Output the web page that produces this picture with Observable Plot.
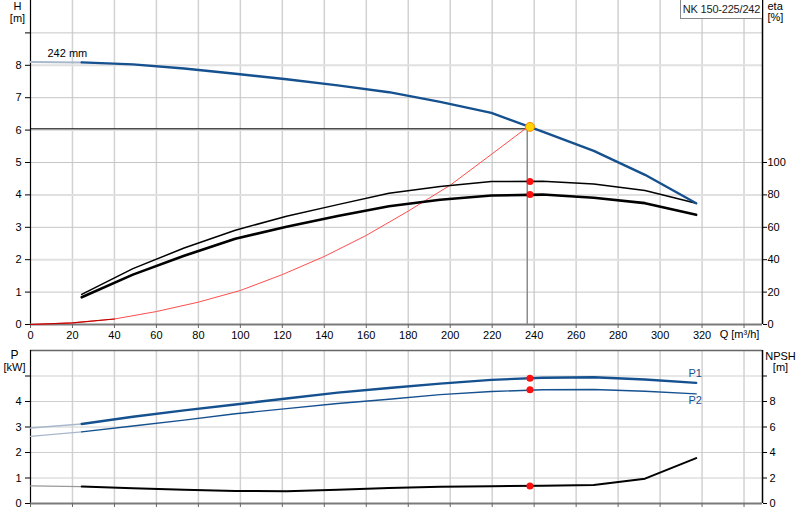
<!DOCTYPE html>
<html><head><meta charset="utf-8">
<script src="https://cdn.jsdelivr.net/npm/d3@7"></script>
<script src="https://cdn.jsdelivr.net/npm/@observablehq/plot@0.6"></script>
<style>
body{margin:0;background:#fff;font-family:"Liberation Sans",Arial,sans-serif;}
#wrap{position:relative;width:800px;height:520px;overflow:hidden;background:#fff}
#topchart{position:absolute;left:0;top:0}
#botchart{position:absolute;left:0;top:340px}
#title{position:absolute;left:680px;top:-1px;width:82px;height:20px;border:1px solid #8a8a8a;border-right:none;background:#fff;font-size:11px;line-height:19px;text-align:center;color:#222;box-sizing:border-box;white-space:nowrap;letter-spacing:-0.2px}
</style></head>
<body>
<div id="wrap"><div id="topchart"></div><div id="botchart"></div><div id="title">NK 150-225/242</div></div>
<script>
// ---- data ----
const flow     = [0, 24.4, 48.8, 73.2, 97.6, 122, 146.4, 170.8, 195.2, 219.6, 244, 268.4, 292.8, 317.2];
const head     = [8.10, 8.09, 8.03, 7.90, 7.74, 7.57, 7.38, 7.17, 6.87, 6.53, 5.95, 5.36, 4.62, 3.74];
const etaPump  = [null, 18.6, 34.5, 47.2, 58.2, 66.8, 74.0, 81.0, 85.2, 88.2, 88.4, 86.8, 82.7, 74.8];
const etaTotal = [null, 16.8, 30.8, 42.4, 52.9, 60.4, 67.0, 73.0, 77.0, 79.6, 80.2, 78.2, 74.9, 67.7];
const powerP1  = [2.96, 3.12, 3.40, 3.65, 3.88, 4.12, 4.35, 4.53, 4.70, 4.85, 4.93, 4.95, 4.86, 4.73];
const powerP2  = [2.63, 2.81, 3.04, 3.27, 3.52, 3.72, 3.92, 4.09, 4.27, 4.39, 4.46, 4.47, 4.40, 4.30];
const npsh     = [1.38, 1.33, 1.20, 1.08, 0.99, 0.97, 1.08, 1.22, 1.31, 1.35, 1.40, 1.46, 1.95, 3.56];
const sysFlow  = [0, 20, 40, 60, 80, 100, 120, 140, 160, 180, 200, 220, 237];
const sysHead  = [0, 0.05, 0.17, 0.40, 0.69, 1.05, 1.54, 2.10, 2.75, 3.50, 4.30, 5.27, 6.10];
const dutyQ = 238, dutyLineQ = 236.7, dutyH = 6.1, dutyHLine = 6.04;
const dutyEtaPump = 88.3, dutyEtaTotal = 80.3, dutyP1 = 4.91, dutyP2 = 4.46, dutyNpsh = 1.38;
const qTicks = [0,20,40,60,80,100,120,140,160,180,200,220,240,260,280,300,320,340];
const hTicks = [0,1,2,3,4,5,6,7,8,9];
const etaTicks = [0,20,40,60,80,100];
const pTicks = [0,1,2,3,4,5];
const npshTicks = [0,2,4,6,8,10];
const curveLabel = "242 mm";
const xMax = 348.8;

const rows = flow.map((q,i)=>({q, h:head[i], ep:etaPump[i], et:etaTotal[i], p1:powerP1[i], p2:powerP2[i], n:npsh[i]}));
const sys = sysFlow.map((q,i)=>({q, h:sysHead[i]}));
const BLUE = "#15508f", FADE = "#a9b7cb";
const font = {fontFamily:"'Liberation Sans',Arial,sans-serif", fontSize:"11px", background:"transparent", color:"#000", overflow:"visible"};

const topPlot = Plot.plot({
  width:800, height:345, marginLeft:30, marginRight:38, marginTop:0, marginBottom:21,
  style:font,
  x:{domain:[0,xMax]}, y:{domain:[0,10]},
  marks:[
    Plot.ruleX(qTicks.filter(d=>d>0), {stroke:"#d2d2d2", strokeWidth:1.5}),
    Plot.ruleY(hTicks.filter(d=>d%2===1), {stroke:"#c6c6c6", strokeWidth:1}),
    Plot.ruleY([2,4,6,8], {stroke:"#e0e0e0", strokeWidth:2}),
    Plot.ruleX([0], {stroke:"#000", strokeWidth:1.2}),
    Plot.ruleX([xMax], {stroke:"#000", strokeWidth:1.5}),
    Plot.ruleY([0], {stroke:"#7a7a7a", strokeWidth:2}),
    Plot.axisX({ticks:qTicks, tickSize:4, tickPadding:3, tickFormat:d=>d===340?"":d, label:null, stroke:"#666"}),
    Plot.axisY({ticks:hTicks, tickSize:5, tickPadding:4, tickFormat:d=>d<=8?d:"", label:null}),
    Plot.axisY({anchor:"right", ticks:etaTicks.map(d=>d/20), tickSize:4, tickPadding:1, tickFormat:d=>Math.round(d*20), label:null}),
    Plot.ruleY([dutyHLine], {x1:0, x2:dutyLineQ, stroke:"#000", strokeWidth:1}),
    Plot.ruleX([dutyLineQ], {y1:0, y2:dutyHLine, stroke:"#8c8c8c", strokeWidth:1.5}),
    Plot.line(sys, {x:"q", y:"h", stroke:"#ff4d4d", strokeWidth:1}),
    Plot.line(sys.slice(0,3), {x:"q", y:"h", stroke:"#c00000", strokeWidth:1.2}),
    Plot.line(rows.slice(1), {x:"q", y:d=>d.ep/20, stroke:"#000", strokeWidth:1.5}),
    Plot.line(rows.slice(1), {x:"q", y:d=>d.et/20, stroke:"#000", strokeWidth:2.6}),
    Plot.line(rows.slice(0,2), {x:"q", y:"h", stroke:FADE, strokeWidth:2}),
    Plot.line(rows.slice(1), {x:"q", y:"h", stroke:BLUE, strokeWidth:2.4}),
    Plot.dot([dutyEtaPump, dutyEtaTotal], {x:()=>dutyQ, y:d=>d/20, r:3.5, fill:"#ff1010", stroke:"none"}),
    Plot.dot([dutyH], {x:()=>dutyQ, y:d=>d, r:4.5, fill:"#ffd400", stroke:"#ff8a00", strokeWidth:1}),
    Plot.text([curveLabel], {frameAnchor:"top-left", dx:17, dy:53, textAnchor:"start", lineAnchor:"middle", fill:"#000", fontSize:11}),
    Plot.text(["H"], {frameAnchor:"top-left", dx:-13, dy:2, textAnchor:"middle", lineAnchor:"top", fontSize:11}),
    Plot.text(["[m]"], {frameAnchor:"top-left", dx:-13, dy:18, textAnchor:"middle", lineAnchor:"middle", fontSize:11}),
    Plot.text(["eta"], {frameAnchor:"top-right", dx:5, dy:2, textAnchor:"start", lineAnchor:"top", fontSize:11}),
    Plot.text(["[%]"], {frameAnchor:"top-right", dx:5, dy:17, textAnchor:"start", lineAnchor:"middle", fontSize:11}),
    Plot.text(["Q [m³/h]"], {frameAnchor:"bottom-right", dx:-23, dy:10, textAnchor:"middle", lineAnchor:"middle", fontSize:11})
  ]
});
document.getElementById("topchart").appendChild(topPlot);

const botPlot = Plot.plot({
  width:800, height:180, marginLeft:30, marginRight:38, marginTop:10, marginBottom:17,
  style:font,
  x:{domain:[0,xMax]}, y:{domain:[0,6]},
  marks:[
    Plot.ruleX(qTicks.filter(d=>d>0), {stroke:"#d2d2d2", strokeWidth:1.5}),
    Plot.ruleY([1,2,3,4,5], {stroke:"#cfcfcf", strokeWidth:1.2}),
    Plot.ruleY([6], {stroke:"#666", strokeWidth:1.5}),
    Plot.ruleX([0], {stroke:"#000", strokeWidth:1.2}),
    Plot.ruleX([xMax], {stroke:"#000", strokeWidth:1.5}),
    Plot.ruleY([0], {stroke:"#7a7a7a", strokeWidth:2}),
    Plot.axisX({ticks:qTicks, tickSize:4, tickFormat:()=>"", label:null, stroke:"#666"}),
    Plot.axisY({ticks:pTicks, tickSize:5, tickPadding:4, tickFormat:d=>d<=4?d:"", label:null}),
    Plot.axisY({anchor:"right", ticks:npshTicks.map(d=>d/2), tickSize:4, tickPadding:3, tickFormat:d=>d*2<=8?d*2:"", label:null}),
    Plot.line(rows.slice(0,2), {x:"q", y:"p1", stroke:FADE, strokeWidth:1.6}),
    Plot.line(rows.slice(1), {x:"q", y:"p1", stroke:BLUE, strokeWidth:2.4}),
    Plot.line(rows.slice(0,2), {x:"q", y:"p2", stroke:FADE, strokeWidth:1.3}),
    Plot.line(rows.slice(1), {x:"q", y:"p2", stroke:BLUE, strokeWidth:1.4}),
    Plot.line(rows.slice(0,2), {x:"q", y:d=>d.n/2, stroke:"#999", strokeWidth:1.3}),
    Plot.line(rows.slice(1), {x:"q", y:d=>d.n/2, stroke:"#000", strokeWidth:2}),
    Plot.dot([dutyP1, dutyP2, dutyNpsh/2], {x:()=>dutyQ, y:d=>d, r:3.5, fill:"#ff1010", stroke:"none"}),
    Plot.text(["P1"], {x:()=>flow[flow.length-1], y:()=>powerP1[powerP1.length-1], dx:-1, dy:-9, textAnchor:"middle", lineAnchor:"middle", fill:BLUE, fontSize:11}),
    Plot.text(["P2"], {x:()=>flow[flow.length-1], y:()=>powerP2[powerP2.length-1], dx:-1, dy:7, textAnchor:"middle", lineAnchor:"middle", fill:BLUE, fontSize:11}),
    Plot.text(["P"], {frameAnchor:"top-left", dx:-16, dy:5, textAnchor:"middle", lineAnchor:"middle", fontSize:12}),
    Plot.text(["[kW]"], {frameAnchor:"top-left", dx:-16, dy:17, textAnchor:"middle", lineAnchor:"middle", fontSize:11}),
    Plot.text(["NPSH"], {frameAnchor:"top-right", dx:18, dy:6, textAnchor:"middle", lineAnchor:"middle", fontSize:11}),
    Plot.text(["[m]"], {frameAnchor:"top-right", dx:18, dy:17, textAnchor:"middle", lineAnchor:"middle", fontSize:11})
  ]
});
document.getElementById("botchart").appendChild(botPlot);
</script>
</body></html>
